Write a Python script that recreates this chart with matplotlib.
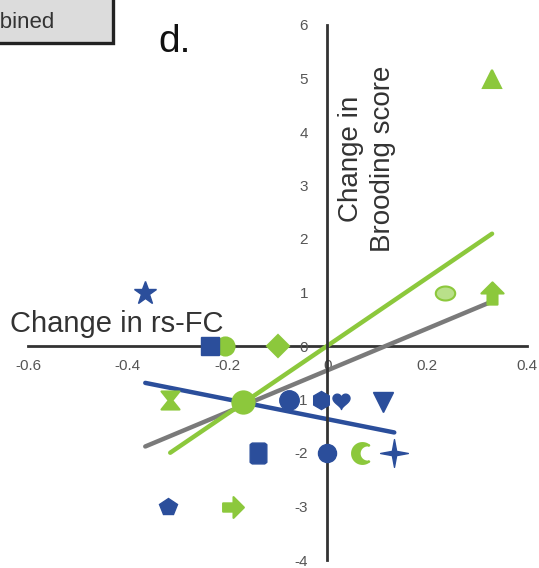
import numpy as np
import matplotlib
matplotlib.use("Agg")
import matplotlib.pyplot as plt
from matplotlib.path import Path
from matplotlib.patches import Rectangle

plt.rcParams["font.family"] = ["Liberation Sans", "DejaVu Sans"]

# group 1 (blue)
blue_x = [-0.365, -0.235, -0.076, -0.012, 0.028, 0.112, -0.14, 0.0, 0.134, -0.32]
blue_y = [1.0, 0.0, -1.0, -1.0, -1.0, -1.05, -2.0, -2.0, -2.0, -3.0]
# group 2 (green)
green_x = [-0.205, -0.1, -0.315, -0.17, 0.07, -0.19, 0.236, 0.33, 0.33]
green_y = [0.0, 0.0, -1.0, -1.05, -2.0, -3.0, 1.0, 1.0, 5.0]

x_ticks = [-0.6, -0.4, -0.2, 0, 0.2, 0.4]
x_labels = ["-0.6", "-0.4", "-0.2", "0", "0.2", "0.4"]
y_ticks = [-4, -3, -2, -1, 0, 1, 2, 3, 4, 5, 6]

BLUE = "#2b4e9b"
GREEN = "#8cc83c"
GRAY = "#7a7a7a"


def poly(pts):
    return Path(pts + [pts[0]], [Path.MOVETO] + [Path.LINETO] * (len(pts) - 1) + [Path.CLOSEPOLY])


hourglass = poly([(-1, 1), (1, 1), (0.2, 0), (1, -1), (-1, -1), (-0.2, 0)])
arrow_right = poly([(-1, -0.4), (0, -0.4), (0, -1), (1, 0), (0, 1), (0, 0.4), (-1, 0.4)])
arrow_up = poly([(-0.45, -1), (0.45, -1), (0.45, 0), (1, 0), (0, 1), (-1, 0), (-0.45, 0)])
ang = np.radians(np.arange(0, 360, 45) + 90)
rad = np.tile([1.0, 0.22], 4)
star4 = poly(list(zip(rad * np.cos(ang), rad * np.sin(ang))))
t_out = np.radians(np.linspace(50, 310, 40))
t_in = np.radians(np.linspace(-79, -281, 40))
moon = poly(list(zip(np.cos(t_out), np.sin(t_out))) +
            list(zip(0.5 + 0.779 * np.cos(t_in), 0.779 * np.sin(t_in))))
can = poly([(-0.8, -0.85), (-0.6, -1), (0.6, -1), (0.8, -0.85),
            (0.8, 0.85), (0.6, 1), (-0.6, 1), (-0.8, 0.85)])
te = np.linspace(0, 2 * np.pi, 40)
oval = poly(list(zip(np.cos(te), 0.72 * np.sin(te))))
heart_t = np.linspace(0, 2 * np.pi, 60)
heart = poly(list(zip(16 * np.sin(heart_t) ** 3,
                      13 * np.cos(heart_t) - 5 * np.cos(2 * heart_t)
                      - 2 * np.cos(3 * heart_t) - np.cos(4 * heart_t))))

blue_markers = ["*", "s", "o", "h", heart, "v", can, "o", star4, "p"]
blue_sizes = [17, 13, 14, 13, 13, 14, 15, 13, 20, 13]
green_markers = ["o", "D", hourglass, "o", moon, arrow_right, oval, arrow_up, "^"]
green_sizes = [13, 11, 13, 16, 15, 15, 14, 16, 13]

fig = plt.figure(figsize=(5.39, 5.68), dpi=100)
ax = fig.add_axes([28 / 539, 8 / 568, 499 / 539, 535 / 568])
ax.set_xlim(-0.6, 0.4)
ax.set_ylim(-4, 6)
for s in ["top", "right"]:
    ax.spines[s].set_visible(False)
for s in ["left", "bottom"]:
    ax.spines[s].set_position(("data", 0))
    ax.spines[s].set_linewidth(2.0)
    ax.spines[s].set_color("#333333")
ax.spines["bottom"].set_zorder(1)
ax.set_xticks(x_ticks, x_labels)
ax.set_yticks(y_ticks, [str(v) for v in y_ticks])
ax.tick_params(axis="x", length=0, pad=9, labelsize=11, labelcolor="#555555")
ax.tick_params(axis="y", length=0, pad=14, labelsize=11, labelcolor="#555555")

# fitted lines
all_x = np.array(blue_x + green_x)
all_y = np.array(blue_y + green_y)
for gx, gy, col in [(all_x, all_y, GRAY), (np.array(blue_x), np.array(blue_y), BLUE),
                    (np.array(green_x), np.array(green_y), GREEN)]:
    k, b = np.polyfit(gx, gy, 1)
    xs = np.array([gx.min(), gx.max()])
    ax.plot(xs, k * xs + b, color=col, lw=3.2, solid_capstyle="round", zorder=2)

for x, y, m, ms in zip(green_x, green_y, green_markers, green_sizes):
    fc = "#b9e08a" if m is oval else GREEN
    ax.plot(x, y, marker=m, ms=ms, color=GREEN, mfc=fc, mec=GREEN, mew=1.5,
            ls="none", zorder=3, clip_on=False)
for x, y, m, ms in zip(blue_x, blue_y, blue_markers, blue_sizes):
    ax.plot(x, y, marker=m, ms=ms, color=BLUE, mec=BLUE, ls="none",
            zorder=4, clip_on=False)

fig.text(10 / 539, 1 - 332 / 568, "Change in rs-FC", fontsize=21, color="#333333",
         va="baseline", ha="left")
fig.text(367 / 539, 1 - 159 / 568, "Change in\nBrooding score", fontsize=20,
         color="#333333", rotation=90, ha="center", va="center", multialignment="center",
         linespacing=1.25)
fig.text(158 / 539, 1 - 52 / 568, "d.", fontsize=28, color="#111111", va="baseline")

# partly cropped legend box from the neighbouring panel
fig.patches.append(Rectangle((-0.1, 1 - 43 / 568), 0.1 + 113 / 539, 0.2,
                             transform=fig.transFigure, facecolor="#dcdcdc",
                             edgecolor="#222222", lw=2.4, zorder=0))
fig.text(55 / 539, 1 - 28 / 568, "Combined", fontsize=16, color="#333333",
         ha="right", va="baseline")

fig.savefig("out.png", dpi=100)
